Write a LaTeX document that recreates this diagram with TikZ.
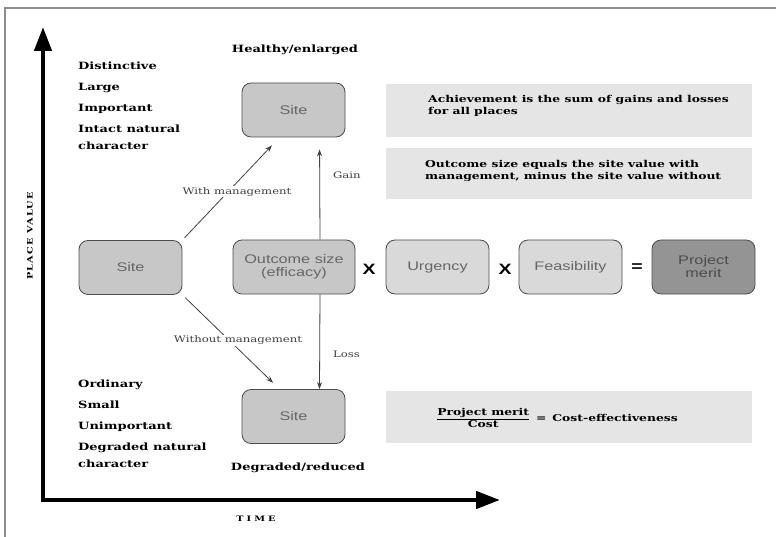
\documentclass[tikz,border=0pt]{standalone}
\usepackage{fontspec}
\usepackage{amsmath}
\setmainfont{DejaVu Serif}[FakeStretch=1.3]
\newfontfamily\boxfont{Liberation Sans}[FakeStretch=1.3]
\usetikzlibrary{arrows.meta}

\begin{document}
\begin{tikzpicture}[x=1pt,y=-1pt,
    every node/.style={inner sep=0pt},
    sitebox/.style={draw=black!70,line width=0.8pt,fill=black!22,rounded corners=9pt,
      minimum width=103pt,minimum height=54pt,align=center,
      font=\boxfont\fontsize{12.5}{13}\selectfont,text=black!60},
    notebox/.style={fill=black!10,minimum width=366pt,minimum height=53pt},
    lbl/.style={font=\bfseries\fontsize{10}{19}\selectfont,align=left,anchor=north west},
    small/.style={font=\fontsize{9}{10}\selectfont,text=black!75,fill=white,inner sep=1pt},
    arr/.style={draw=black!75,line width=0.8pt,-{Stealth[length=7pt,width=5pt]}},
    times/.style={font=\boxfont\bfseries\fontsize{15}{15}\selectfont}]
  \useasboundingbox (0,0) rectangle (776,537);
  % frame
  \draw[black!45,line width=1.2pt] (5,537) -- (5,8) -- (776,8);

  % axes
  \coordinate (ytop) at (43,27);
  \coordinate (origin) at (43,500);
  \coordinate (xend) at (500,500);
  \draw[line width=4.5pt,{Triangle[length=24pt,width=17pt]}-{Triangle[length=24pt,width=17pt]}]
    (ytop) -- (origin) -- (xend);
  \node[rotate=90,font=\bfseries\fontsize{7.5}{8}\selectfont\addfontfeature{LetterSpace=15}] (yname) at (30,236) {PLACE VALUE};
  \node[font=\bfseries\fontsize{7.5}{8}\selectfont\addfontfeature{LetterSpace=40}] (xname) at (256,519) {TIME};

  % place value labels
  \node[lbl] (high) at (78,62) {Distinctive\\[2pt]Large\\[2pt]Important\\[2pt]Intact natural\\[-2pt]character};
  \node[lbl] (low) at (78,380) {Ordinary\\[2pt]Small\\[2pt]Unimportant\\[2pt]Degraded natural\\[-2pt]character};
  \node[font=\bfseries\fontsize{10}{12}\selectfont] (healthy) at (295,50) {Healthy/enlarged};
  \node[font=\bfseries\fontsize{10}{12}\selectfont] (degraded) at (298,468) {Degraded/reduced};

  % boxes
  \node[sitebox] (siteT) at (293.5,110) {Site};
  \node[sitebox] (siteL) at (130.5,267.5) {Site};
  \node[sitebox] (siteB) at (293.5,416.5) {Site};
  \node[sitebox,minimum width=122pt] (outcome) at (294,267) {Outcome size\\(efficacy)};
  \node[times] (x1) at (369,269) {X};
  \node[sitebox,fill=black!15] (urgency) at (437.5,267) {Urgency};
  \node[times] (x2) at (505,269) {X};
  \node[sitebox,fill=black!15] (feas) at (570.5,267) {Feasibility};
  \node[times] (eq) at (637,268) {=};
  \node[sitebox,fill=black!42,text=black!70] (merit) at (703.5,267) {Project\\merit};

  % notes
  \node[notebox] (note1) at (569,110.5) {};
  \node[lbl,font=\bfseries\fontsize{9.5}{12}\selectfont] (note1t) at (428,95) {Achievement is the sum of gains and losses\\for all places};
  \node[notebox,minimum height=51pt] (note2) at (569,174) {};
  \node[lbl,font=\bfseries\fontsize{9.5}{12}\selectfont] (note2t) at (425,160) {Outcome size equals the site value with\\management, minus the site value without};
  \node[notebox,minimum height=52pt] (note3) at (569,417) {};
  \node[font=\bfseries\fontsize{9.5}{12}\selectfont] (note3t) at (557,418)
    {$\dfrac{\text{\bfseries Project merit}}{\text{\bfseries Cost}}$ \,=\, Cost-effectiveness};

  % connectors
  \draw[arr,shorten <=3pt,shorten >=11pt] (siteL.north east) -- node[small,pos=0.47,xshift=9pt] {With management} ([xshift=-14pt]siteT.south);
  \draw[arr,shorten <=4pt,shorten >=9pt] (siteL.south east) -- node[small,pos=0.48,xshift=9pt] {Without management} ([xshift=-14pt]siteB.north);
  \draw[arr,shorten >=12pt] ([xshift=26pt]outcome.north) -- node[small,right=12pt,fill=none,pos=0.63] {Gain} ([xshift=26pt]siteT.south);
  \draw[arr] ([xshift=26pt]outcome.south) -- node[small,right=12pt,fill=none,pos=0.63] {Loss} ([xshift=26pt]siteB.north);
\end{tikzpicture}
\end{document}
